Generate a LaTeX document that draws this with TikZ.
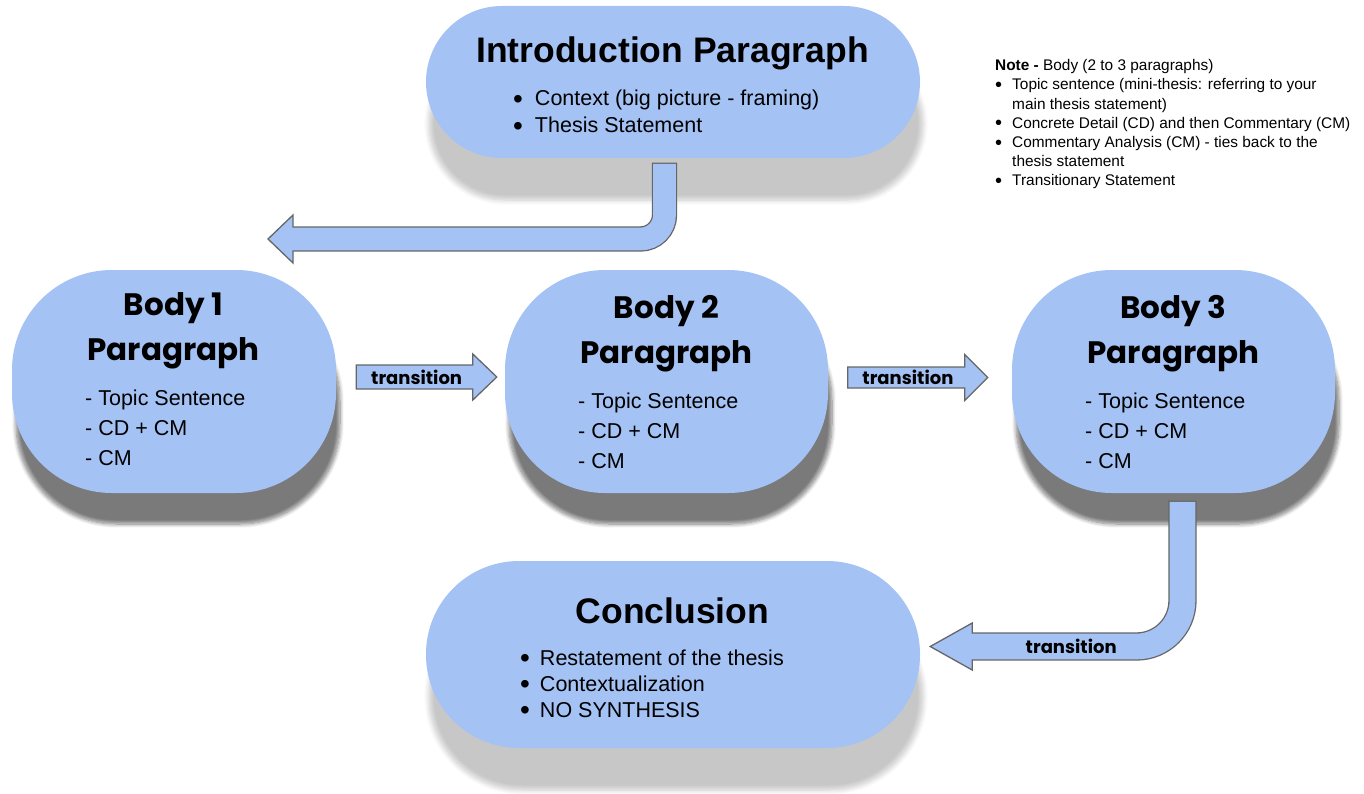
\documentclass[tikz,border=0pt]{standalone}
\usepackage{fontspec}
\setmainfont{Liberation Sans}
\newfontfamily\comicfont{Poppins}
\usepackage{graphicx}
\usepackage{tikz}
\usetikzlibrary{calc,shadows.blur}
\definecolor{pillblue}{HTML}{A4C2F4}
\definecolor{edgegray}{HTML}{666666}
\newcommand\blt{\raisebox{-0.11em}{\scalebox{1.3}{\textbullet}}}
\tikzset{
  pill/.style={fill=pillblue,inner sep=0pt},
  lightshade/.style={blur shadow={shadow xshift=3pt,shadow yshift=-42pt,shadow opacity=22,shadow blur steps=8,shadow blur radius=5pt}},
  darkshade/.style={blur shadow={shadow xshift=4pt,shadow yshift=-31pt,shadow opacity=52,shadow blur steps=8,shadow blur radius=4pt}},
  bigtitle/.style={font=\fontsize{35.5}{40}\selectfont\bfseries,anchor=base,inner sep=0pt},
  bodytitle/.style={font=\fontsize{31}{45}\selectfont\comicfont\bfseries,anchor=base,inner sep=0pt},
  itemtext/.style={font=\fontsize{21.5}{#1}\selectfont,anchor=base west,inner sep=0pt},
  translabel/.style={font=\fontsize{18}{20}\selectfont\comicfont\bfseries,inner sep=0pt},
  barrow/.style={fill=pillblue,draw=edgegray,line width=1.3pt,line join=miter}
}

\begin{document}
\begin{tikzpicture}[x=1pt,y=-1pt]
\useasboundingbox (0,0) rectangle (1364,794);
% pills
\node[pill,lightshade,rounded corners=76pt,minimum width=494pt,minimum height=152pt] (intro) at (673,82) {};
\node[pill,darkshade,rounded corners=100pt,minimum width=324pt,minimum height=223pt] (b1) at (174,381.5) {};
\node[pill,darkshade,rounded corners=100pt,minimum width=323pt,minimum height=223pt] (b2) at (666.5,381.5) {};
\node[pill,darkshade,rounded corners=100pt,minimum width=323pt,minimum height=223pt] (b3) at (1173.5,381.5) {};
\node[pill,lightshade,rounded corners=93pt,minimum width=494pt,minimum height=187pt] (concl) at (673,654.5) {};

% straight transition arrows
\coordinate (t12s) at ($(b1.east)+(20,-4.5)$);
\coordinate (t12e) at ($(b2.west)+(-8,-4.5)$);
\draw[barrow] ($(t12s)+(0,-12)$) -- ($(t12e)+(-24,-12)$) -- ($(t12e)+(-24,-23)$) -- (t12e)
  -- ($(t12e)+(-24,23)$) -- ($(t12e)+(-24,12)$) -- ($(t12s)+(0,12)$) -- cycle;
\coordinate (t23s) at ($(b2.east)+(19.5,-4)$);
\coordinate (t23e) at ($(b3.west)+(-24,-4)$);
\draw[barrow] ($(t23s)+(0,-10.5)$) -- ($(t23e)+(-23,-10.5)$) -- ($(t23e)+(-23,-23)$) -- (t23e)
  -- ($(t23e)+(-23,23)$) -- ($(t23e)+(-23,10.5)$) -- ($(t23s)+(0,10.5)$) -- cycle;

% bent arrow intro -> body 1
\coordinate (a1s) at ($(intro.south)+(-8.5,5)$);
\coordinate (a1e) at (268,239);
\coordinate (a1h) at ($(a1e)+(25,0)$);
\draw[edgegray,line width=25.3pt,rounded corners=24pt] ($(a1s)+(0,-0.65)$) |- (a1h);
\draw[barrow] ($(a1h)+(0,-24)$) -- (a1e) -- ($(a1h)+(0,24)$) -- cycle;
\draw[pillblue,line width=22.7pt,rounded corners=24pt] ($(a1s)+(0,0.65)$) |- ($(a1h)+(-1.5,0)$);

% bent arrow body 3 -> conclusion
\coordinate (a2s) at ($(b3.south)+(9,8)$);
\coordinate (a2e) at ($(concl.east)+(10,-8)$);
\coordinate (a2h) at ($(a2e)+(42,0)$);
\draw[edgegray,line width=28.3pt,rounded corners=46pt] ($(a2s)+(0,-0.65)$) |- (a2h);
\draw[barrow] ($(a2h)+(0,-23.5)$) -- (a2e) -- ($(a2h)+(0,23.5)$) -- cycle;
\draw[pillblue,line width=25.7pt,rounded corners=46pt] ($(a2s)+(0,0.65)$) |- ($(a2h)+(-1.5,0)$);

% labels
\node[translabel] (t12l) at ($(t12s)!0.43!(t12e)$) {transition};
\node[translabel] (t23l) at ($(t23s)!0.43!(t23e)$) {transition};
\node[translabel] (a2l) at ($(a2e)+(141,0)$) {transition};

% texts
\node[bigtitle] (introtitle) at (672.5,63) {Introduction Paragraph};
\node[itemtext=27] (introlist) at (513,106) {\begin{tabular}[t]{@{}l@{\hspace{12pt}}l@{}}
  \blt & Context (big picture - framing)\\
  \blt & Thesis Statement\end{tabular}};

\node[bodytitle] (b1title) at (173.5,315) {\begin{tabular}[t]{@{}c@{}}Body 1\\Paragraph\end{tabular}};
\node[itemtext=30] (b1list) at (85,405) {\begin{tabular}[t]{@{}l@{}}- Topic Sentence\\- CD + CM\\- CM\end{tabular}};
\node[bodytitle] (b2title) at (666.5,318) {\begin{tabular}[t]{@{}c@{}}Body 2\\Paragraph\end{tabular}};
\node[itemtext=30] (b2list) at (578,408) {\begin{tabular}[t]{@{}l@{}}- Topic Sentence\\- CD + CM\\- CM\end{tabular}};
\node[bodytitle] (b3title) at (1173.5,318) {\begin{tabular}[t]{@{}c@{}}Body 3\\Paragraph\end{tabular}};
\node[itemtext=30] (b3list) at (1085,408) {\begin{tabular}[t]{@{}l@{}}- Topic Sentence\\- CD + CM\\- CM\end{tabular}};

\node[bigtitle] (concltitle) at (672.5,623) {Conclusion};
\node[itemtext=26] (concllist) at (520,665) {\begin{tabular}[t]{@{}l@{\hspace{10pt}}l@{}}
  \blt & Restatement of the thesis\\
  \blt & Contextualization\\
  \blt & NO SYNTHESIS\end{tabular}};

% note
\node[font=\fontsize{15.4}{19.2}\selectfont,anchor=base west,inner sep=0pt] (note) at (995,70.7) {\begin{tabular}[t]{@{}l@{\hspace{10pt}}l@{}}
  \multicolumn{2}{@{}l@{}}{\textbf{Note -} Body (2 to 3 paragraphs)}\\
  \blt & Topic sentence (mini-thesis: referring to your\\
   & main thesis statement)\\
  \blt & Concrete Detail (CD) and then Commentary (CM)\\
  \blt & Commentary Analysis (CM) - ties back to the\\
   & thesis statement\\
  \blt & Transitionary Statement\end{tabular}};
\end{tikzpicture}
\end{document}
